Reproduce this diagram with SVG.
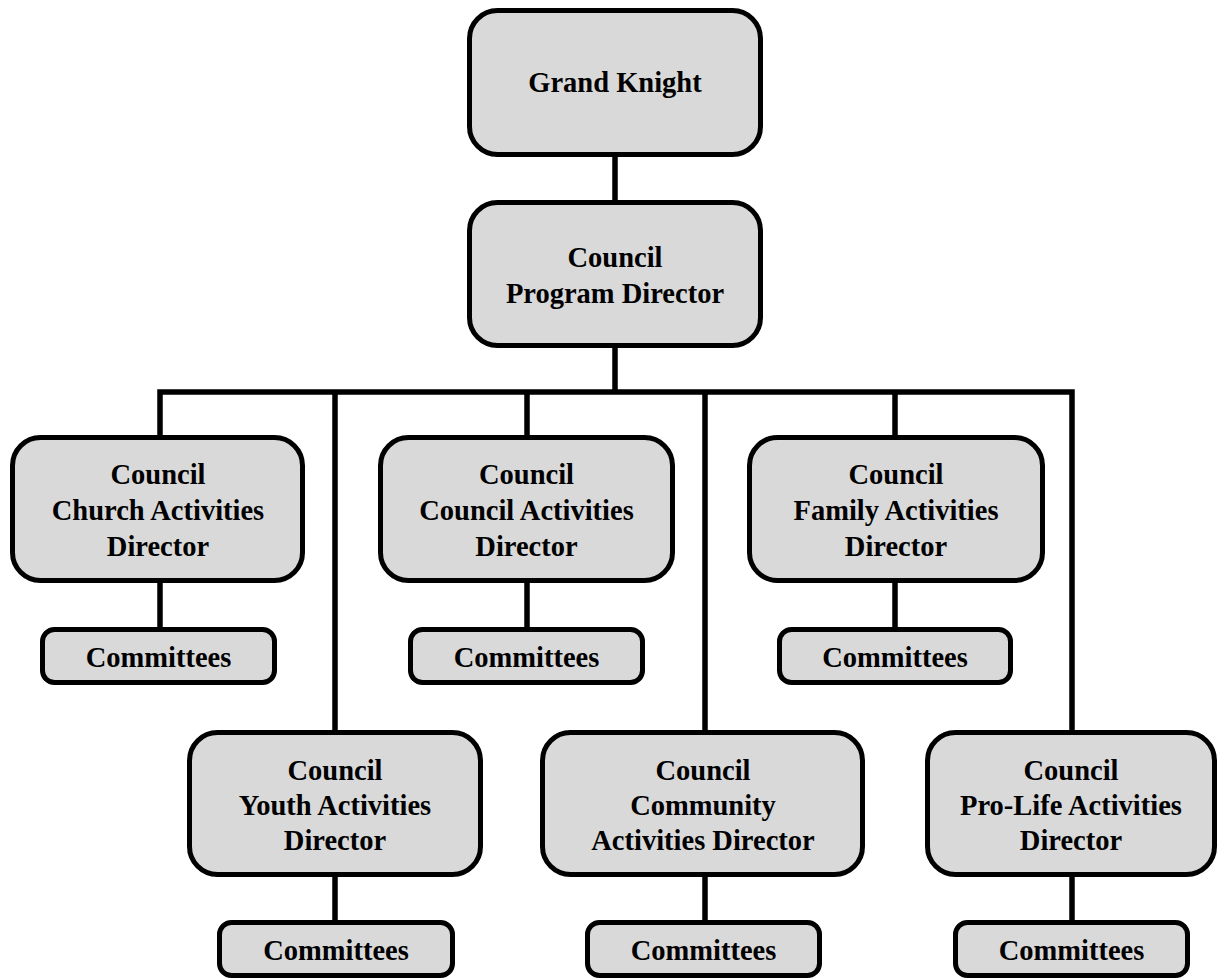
<svg xmlns="http://www.w3.org/2000/svg" width="1218" height="980" viewBox="0 0 1218 980">
<style>
.box{fill:#d9d9d9;stroke:#000;stroke-width:5}
.t{font-family:"Liberation Serif","Times New Roman",serif;font-weight:bold;font-size:28.5px;fill:#000;text-anchor:middle}
.c{fill:none;stroke:#000;stroke-width:5.5;stroke-linejoin:miter;stroke-linecap:butt}
</style>
<rect width="1218" height="980" fill="#fff"/>
<g id="connectors">
<path class="c" d="M615 156V201"/>
<path class="c" d="M615 347V392"/>
<path class="c" d="M160 436V392H1072V731"/>
<path class="c" d="M527 392V436"/>
<path class="c" d="M895 392V436"/>
<path class="c" d="M335 392V731"/>
<path class="c" d="M705 392V731"/>
<path class="c" d="M160 582V628"/>
<path class="c" d="M527 582V628"/>
<path class="c" d="M895 582V628"/>
<path class="c" d="M335 876V921"/>
<path class="c" d="M705 876V921"/>
<path class="c" d="M1072 876V921"/>
</g>
<g id="grand-knight">
<rect class="box" x="469.5" y="10.5" width="291" height="144" rx="28"/>
<text class="t" x="615" y="92">Grand Knight</text>
</g>
<g id="program-director">
<rect class="box" x="469.5" y="202.5" width="291" height="143" rx="28"/>
<text class="t" x="615" y="267">Council</text>
<text class="t" x="615" y="303">Program Director</text>
</g>
<g id="church-director">
<rect class="box" x="12.5" y="437.5" width="290" height="143" rx="28"/>
<text class="t" x="158" y="484">Council</text>
<text class="t" x="158" y="520">Church Activities</text>
<text class="t" x="158" y="556">Director</text>
</g>
<g id="church-committees">
<rect class="box" x="42.5" y="629.5" width="232" height="53" rx="12"/>
<text class="t" x="158.5" y="667">Committees</text>
</g>
<g id="council-director">
<rect class="box" x="380.5" y="437.5" width="292" height="143" rx="28"/>
<text class="t" x="526.5" y="484">Council</text>
<text class="t" x="526.5" y="520">Council Activities</text>
<text class="t" x="526.5" y="556">Director</text>
</g>
<g id="council-committees">
<rect class="box" x="410.5" y="629.5" width="232" height="53" rx="12"/>
<text class="t" x="526.5" y="667">Committees</text>
</g>
<g id="family-director">
<rect class="box" x="749.5" y="437.5" width="293" height="143" rx="28"/>
<text class="t" x="896" y="484">Council</text>
<text class="t" x="896" y="520">Family Activities</text>
<text class="t" x="896" y="556">Director</text>
</g>
<g id="family-committees">
<rect class="box" x="779.5" y="629.5" width="231" height="53" rx="12"/>
<text class="t" x="895" y="667">Committees</text>
</g>
<g id="youth-director">
<rect class="box" x="189.5" y="732.5" width="291" height="142" rx="28"/>
<text class="t" x="335" y="780">Council</text>
<text class="t" x="335" y="815">Youth Activities</text>
<text class="t" x="335" y="850">Director</text>
</g>
<g id="youth-committees">
<rect class="box" x="219.5" y="922.5" width="233" height="53" rx="12"/>
<text class="t" x="336" y="960">Committees</text>
</g>
<g id="community-director">
<rect class="box" x="542.5" y="732.5" width="320" height="142" rx="28"/>
<text class="t" x="703" y="780">Council</text>
<text class="t" x="703" y="815">Community</text>
<text class="t" x="703" y="850">Activities Director</text>
</g>
<g id="community-committees">
<rect class="box" x="587.5" y="922.5" width="232" height="53" rx="12"/>
<text class="t" x="703.5" y="960">Committees</text>
</g>
<g id="prolife-director">
<rect class="box" x="927.5" y="732.5" width="287" height="142" rx="28"/>
<text class="t" x="1071" y="780">Council</text>
<text class="t" x="1071" y="815">Pro-Life Activities</text>
<text class="t" x="1071" y="850">Director</text>
</g>
<g id="prolife-committees">
<rect class="box" x="955.5" y="922.5" width="232" height="53" rx="12"/>
<text class="t" x="1071.5" y="960">Committees</text>
</g>
</svg>
